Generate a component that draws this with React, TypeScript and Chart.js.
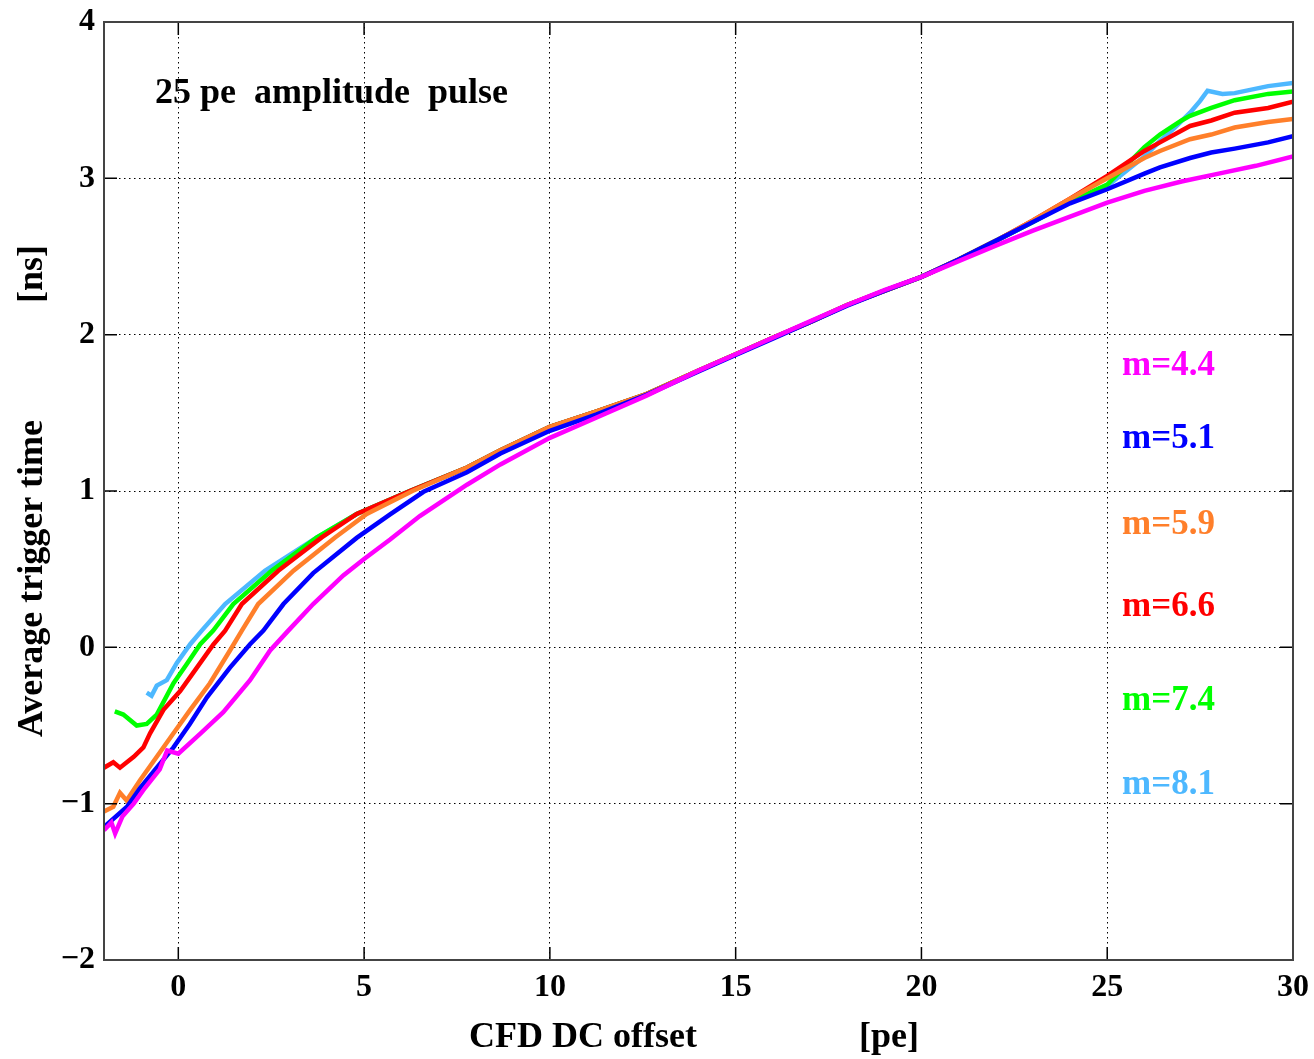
import React, { useEffect, useRef } from "react";
import { Chart, registerables } from "chart.js";

Chart.register(...registerables);

// ---- axis ticks ----
const X_TICKS = [0, 5, 10, 15, 20, 25, 30];
const Y_TICKS = [-2, -1, 0, 1, 2, 3, 4];

// ---- series: m=4.4 (magenta) ----
const M44_X = [-2, -1.8, -1.7, -1.5, -1.2, -0.9, -0.5, -0.3, 0, 0.6, 1.21, 1.93, 2.47, 2.96, 3.63, 4.44, 5.0, 5.7, 6.5, 7.77, 8.67, 10, 11.26, 12.6, 14, 15, 16, 17, 18, 19, 20, 21, 22, 23, 24, 25, 26, 27, 28, 29, 30];
const M44_Y = [-1.17, -1.12, -1.19, -1.08, -1.0, -0.9, -0.78, -0.66, -0.68, -0.55, -0.415, -0.21, -0.02, 0.107, 0.277, 0.46, 0.565, 0.69, 0.84, 1.04, 1.17, 1.34, 1.47, 1.61, 1.77, 1.875, 1.98, 2.085, 2.19, 2.285, 2.37, 2.47, 2.57, 2.665, 2.755, 2.845, 2.92, 2.98, 3.03, 3.08, 3.14];

// ---- series: m=5.1 (blue) ----
const M51_X = [-2, -1.38, -1.03, -0.58, -0.13, 0.31, 0.77, 1.39, 1.93, 2.29, 2.83, 3.63, 4.8, 5.7, 6.6, 7.77, 8.67, 10, 11.26, 12.6, 14, 15, 16, 17, 18, 19, 20, 21, 22, 23, 24, 25, 26, 26.42, 27.23, 27.8, 28.43, 29.33, 30];
const M51_Y = [-1.15, -1.02, -0.9, -0.77, -0.64, -0.49, -0.32, -0.13, 0.02, 0.107, 0.277, 0.475, 0.7, 0.85, 0.995, 1.12, 1.24, 1.385, 1.49, 1.615, 1.765, 1.87, 1.975, 2.08, 2.185, 2.28, 2.37, 2.48, 2.6, 2.72, 2.84, 2.93, 3.03, 3.07, 3.13, 3.165, 3.19, 3.23, 3.27];

// ---- series: m=5.9 (orange) ----
const M59_X = [-2, -1.75, -1.57, -1.39, -1.03, -0.58, -0.13, 0.32, 0.85, 1.39, 1.71, 2.15, 3.1, 4.22, 5.07, 6.3, 7.77, 8.67, 10, 11.26, 12.6, 14, 15, 16, 17, 18, 19, 20, 21, 22, 23, 24, 25, 26, 26.42, 27.23, 27.8, 28.43, 29.33, 30];
const M59_Y = [-1.05, -1.02, -0.93, -0.98, -0.85, -0.7, -0.55, -0.4, -0.23, -0.02, 0.107, 0.277, 0.49, 0.703, 0.853, 1.0, 1.15, 1.26, 1.41, 1.51, 1.62, 1.77, 1.875, 1.98, 2.08, 2.19, 2.28, 2.37, 2.48, 2.6, 2.73, 2.87, 3.0, 3.13, 3.175, 3.25, 3.28, 3.325, 3.36, 3.38];

// ---- series: m=6.6 (red) ----
const M66_X = [-2, -1.75, -1.57, -1.2, -0.94, -0.76, -0.4, 0.05, 0.5, 0.95, 1.26, 1.71, 2.69, 3.86, 4.8, 6.23, 7.77, 8.67, 10, 11.26, 12.6, 14, 15, 16, 17, 18, 19, 20, 21, 22, 23, 24, 25, 26, 26.42, 27.23, 27.8, 28.43, 29.33, 30];
const M66_Y = [-0.77, -0.735, -0.77, -0.7, -0.64, -0.55, -0.4, -0.28, -0.13, 0.02, 0.107, 0.277, 0.49, 0.703, 0.853, 1.0, 1.15, 1.26, 1.41, 1.51, 1.62, 1.77, 1.875, 1.98, 2.08, 2.19, 2.28, 2.37, 2.48, 2.6, 2.73, 2.87, 3.015, 3.175, 3.23, 3.335, 3.37, 3.42, 3.45, 3.49];

// ---- series: m=7.4 (green) ----
const M74_X = [-1.71, -1.48, -1.12, -0.85, -0.58, -0.13, 0.22, 0.59, 0.94, 1.48, 2.51, 3.73, 4.8, 6.23, 7.77, 8.67, 10, 11.26, 12.6, 14, 15, 16, 17, 18, 19, 20, 21, 22, 23, 24, 25, 26, 26.42, 27, 27.23, 27.8, 28.43, 29.33, 30];
const M74_Y = [-0.41, -0.43, -0.5, -0.49, -0.43, -0.23, -0.11, 0.02, 0.107, 0.277, 0.49, 0.703, 0.853, 1.0, 1.15, 1.26, 1.41, 1.51, 1.62, 1.77, 1.875, 1.98, 2.08, 2.19, 2.28, 2.37, 2.48, 2.6, 2.72, 2.85, 2.96, 3.2, 3.28, 3.37, 3.4, 3.45, 3.5, 3.54, 3.555];

// ---- series: m=8.1 (light blue) ----
const M81_X = [-0.85, -0.72, -0.58, -0.31, -0.04, 0.32, 0.63, 1.26, 2.33, 3.73, 4.8, 6.23, 7.77, 8.67, 10, 11.26, 12.6, 14, 15, 16, 17, 18, 19, 20, 21, 22, 23, 24, 25, 26, 26.42, 26.8, 27.23, 27.5, 27.7, 28.1, 28.43, 29.33, 30];
const M81_Y = [-0.29, -0.31, -0.245, -0.21, -0.1, 0.02, 0.107, 0.277, 0.49, 0.703, 0.853, 1.0, 1.15, 1.26, 1.41, 1.51, 1.62, 1.77, 1.875, 1.98, 2.08, 2.19, 2.28, 2.37, 2.48, 2.6, 2.72, 2.85, 2.95, 3.14, 3.24, 3.32, 3.42, 3.495, 3.56, 3.54, 3.545, 3.59, 3.61];

const SERIES_LABELS = ["m=4.4", "m=5.1", "m=5.9", "m=6.6", "m=7.4", "m=8.1"];
const SERIES_X = [M44_X, M51_X, M59_X, M66_X, M74_X, M81_X];
const SERIES_Y = [M44_Y, M51_Y, M59_Y, M66_Y, M74_Y, M81_Y];
const COLORS = ["#ff00ff", "#0000ff", "#ff7f2a", "#ff0000", "#00ff00", "#4db8ff"];

// label anchor (data coordinates)
const LABEL_X = 25.4;
const LABEL_Y = [1.8, 1.335, 0.785, 0.26, -0.345, -0.88];
const PLOT_TITLE = "25 pe  amplitude  pulse";
const PLOT_TITLE_POS = [-0.63, 3.54];

const X_TITLE = "CFD DC offset                  [pe] ";
const Y_TITLE = "Average trigger time             [ns]";

const FONT = '"Liberation Serif", "Times New Roman", serif';

const fmt = (v: number) => (v < 0 ? "\u2212" + Math.abs(v) : String(v));

const framePlugin = {
  id: "frameAndText",
  afterDraw(chart: any) {
    const { ctx, chartArea } = chart;
    const xs = chart.scales.x;
    const ys = chart.scales.y;
    const { left, right, top, bottom } = chartArea;
    ctx.save();
    // inner tick marks
    ctx.strokeStyle = "#000";
    ctx.lineWidth = 1.5;
    const tl = 13;
    X_TICKS.forEach((v) => {
      const px = xs.getPixelForValue(v);
      ctx.beginPath();
      ctx.moveTo(px, bottom);
      ctx.lineTo(px, bottom - tl);
      ctx.moveTo(px, top);
      ctx.lineTo(px, top + tl);
      ctx.stroke();
    });
    Y_TICKS.forEach((v) => {
      const py = ys.getPixelForValue(v);
      ctx.beginPath();
      ctx.moveTo(left, py);
      ctx.lineTo(left + tl, py);
      ctx.moveTo(right, py);
      ctx.lineTo(right - tl, py);
      ctx.stroke();
    });
    // frame
    ctx.strokeStyle = "#444";
    ctx.lineWidth = 2;
    ctx.strokeRect(left, top, right - left, bottom - top);
    // plot title
    ctx.fillStyle = "#000";
    ctx.font = `bold 36px ${FONT}`;
    ctx.textAlign = "left";
    ctx.textBaseline = "middle";
    ctx.fillText(PLOT_TITLE, xs.getPixelForValue(PLOT_TITLE_POS[0]), ys.getPixelForValue(PLOT_TITLE_POS[1]));
    // series labels
    ctx.font = `bold 35px ${FONT}`;
    SERIES_LABELS.forEach((t, i) => {
      ctx.fillStyle = COLORS[i];
      ctx.fillText(t, xs.getPixelForValue(LABEL_X), ys.getPixelForValue(LABEL_Y[i]));
    });
    ctx.restore();
  },
};

export default function App() {
  const ref = useRef<HTMLCanvasElement | null>(null);
  useEffect(() => {
    if (!ref.current) return;
    const tickFont = { family: FONT, size: 32, weight: "bold" as const };
    const titleFont = { family: FONT, size: 36, weight: "bold" as const };
    const chart = new Chart(ref.current, {
      type: "line",
      data: {
        datasets: SERIES_LABELS.map((label, i) => ({
          label,
          data: SERIES_X[i].map((x, j) => ({ x, y: SERIES_Y[i][j] })),
          borderColor: COLORS[i],
          backgroundColor: COLORS[i],
          borderWidth: 4.5,
          pointRadius: 0,
          tension: 0,
          fill: false,
        })),
      },
      options: {
        animation: false,
        responsive: false,
        maintainAspectRatio: false,
        layout: { padding: { left: 0, right: 21, top: 22, bottom: 0 } },
        plugins: { legend: { display: false }, tooltip: { enabled: false } },
        scales: {
          x: {
            type: "linear",
            min: -2,
            max: 30,
            afterBuildTicks: (s: any) => {
              s.ticks = X_TICKS.map((v) => ({ value: v }));
            },
            afterFit: (s: any) => {
              s.height = 99;
              s.paddingLeft = 0;
              s.paddingRight = 0;
            },
            grid: { color: "#000", lineWidth: 1, drawTicks: false },
            border: { display: false, dash: [1.5, 3.5] },
            ticks: {
              font: tickFont,
              color: "#000",
              padding: 9,
              maxRotation: 0,
              callback: (v: any) => fmt(Number(v)),
            },
            title: { display: true, text: X_TITLE, font: titleFont, color: "#000", padding: 0 },
          },
          y: {
            type: "linear",
            min: -2,
            max: 4,
            afterBuildTicks: (s: any) => {
              s.ticks = Y_TICKS.map((v) => ({ value: v }));
            },
            afterFit: (s: any) => {
              s.width = 104;
              s.paddingTop = 0;
              s.paddingBottom = 0;
            },
            grid: { color: "#000", lineWidth: 1, drawTicks: false },
            border: { display: false, dash: [1.5, 3.5] },
            ticks: {
              font: tickFont,
              color: "#000",
              padding: 9,
              callback: (v: any) => fmt(Number(v)),
            },
            title: { display: true, text: Y_TITLE, font: titleFont, color: "#000", padding: { top: 11, bottom: 0 } },
          },
        },
      },
      plugins: [framePlugin],
    });
    return () => chart.destroy();
  }, []);
  return (
    <div style={{ position: "absolute", left: 0, top: 0, width: 1314, height: 1059, background: "#fff" }}>
      <canvas ref={ref} width={1314} height={1059} style={{ display: "block" }} />
    </div>
  );
}
